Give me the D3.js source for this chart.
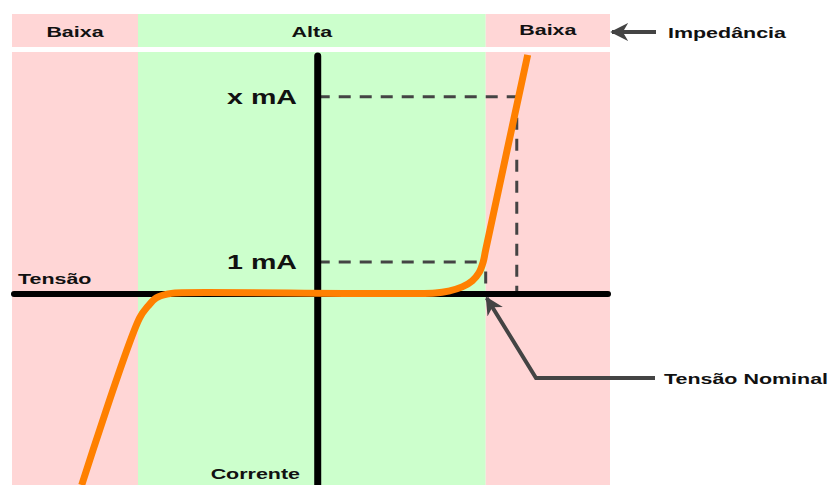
<!DOCTYPE html>
<html>
<head>
<meta charset="utf-8">
<script src="https://cdn.jsdelivr.net/npm/d3@7"></script>
<style>
  body { margin: 0; background: #fff; }
  text { font-family: "Liberation Sans", Arial, sans-serif; font-weight: bold; fill: #111; }
</style>
</head>
<body>
<div class="container"></div>
<script>
// voltage in units of nominal voltage, current in mA
const zones = [
    {label: 'Baixa', from: -1.82, to: -1.07, color: '#ffd6d6'},
    {label: 'Alta', from: -1.07, to: 1.0, color: '#ccffcc'},
    {label: 'Baixa', from: 1.0, to: 1.74, color: '#ffd6d6'},
];
const curveV = [-1.405, -1.06, -1.01, -0.96, -0.89, -0.85, 0.70, 0.78, 0.86, 0.92, 0.96, 0.985, 1.0, 1.25];
const curveI = [-5.97, -0.75, -0.38, -0.12, 0.0, 0.03, 0.03, 0.09, 0.22, 0.41, 0.66, 1.0, 1.38, 7.47];
const levels = [
    {label: '1 mA', i: 1, v: 0.985},
    {label: 'x mA', i: 6.16, v: 1.185},
];
const nominalV = 1.0;

const width = 830;
const height = 485;
const stretch = 1.43; // the lettering is drawn wide

const x = d3.scaleLinear().domain([-1.82, 1.74]).range([12, 610]);
const y = d3.scaleLinear().domain([-5.97, 7.56]).range([485, 52]);

const svg = d3.select('.container')
    .append('svg')
    .attr('width', width)
    .attr('height', height);

function label(tx, ty, str, size, anchor) {
    return svg.append('text')
        .attr('transform', `translate(${tx},${ty}) scale(${stretch},1)`)
        .attr('text-anchor', anchor || 'start')
        .attr('font-size', size)
        .text(str);
}

// header band
svg.selectAll('.head')
    .data(zones)
    .enter()
    .append('rect')
    .attr('x', d => x(d.from))
    .attr('y', 14)
    .attr('width', d => x(d.to) - x(d.from))
    .attr('height', 33)
    .attr('fill', d => d.color);

zones.forEach((d, i) => {
    label((x(d.from) + x(d.to)) / 2, i === 2 ? 35 : 37, d.label, 15, 'middle');
});

// zones of the plot
svg.selectAll('.zone')
    .data(zones)
    .enter()
    .append('rect')
    .attr('x', d => x(d.from))
    .attr('y', y.range()[1])
    .attr('width', d => x(d.to) - x(d.from))
    .attr('height', y.range()[0] - y.range()[1])
    .attr('fill', d => d.color);

// dashed guides
const dash = svg.append('g')
    .attr('stroke', '#444')
    .attr('stroke-width', 3)
    .attr('stroke-dasharray', '12,9');
levels.forEach(l => {
    dash.append('line')
        .attr('x1', x(0)).attr('x2', x(l.v))
        .attr('y1', y(l.i)).attr('y2', y(l.i));
});
dash.append('line')
    .attr('x1', x(nominalV)).attr('x2', x(nominalV))
    .attr('y1', y(0.7)).attr('y2', y(0));
dash.append('line')
    .attr('x1', x(levels[1].v)).attr('x2', x(levels[1].v))
    .attr('y1', y(levels[1].i)).attr('y2', y(0));

// axes
svg.append('line')
    .attr('x1', x(0)).attr('x2', x(0))
    .attr('y1', 56).attr('y2', 485)
    .attr('stroke', 'black')
    .attr('stroke-width', 7)
    .attr('stroke-linecap', 'round');
svg.append('line')
    .attr('x1', 14).attr('x2', 608)
    .attr('y1', y(0)).attr('y2', y(0))
    .attr('stroke', 'black')
    .attr('stroke-width', 6)
    .attr('stroke-linecap', 'round');

// curve
const pts = curveV.map((v, i) => [v, curveI[i]]);
svg.append('path')
    .datum(pts)
    .attr('d', d3.line().x(d => x(d[0])).y(d => y(d[1])).curve(d3.curveCatmullRom.alpha(0.5)))
    .attr('fill', 'none')
    .attr('stroke', '#ff8000')
    .attr('stroke-width', 7);

// labels
levels.forEach(d => label(297, y(d.i) + 7, d.label, 20, 'end'));
label(18, 284, 'Tensão', 15);
label(300, 479, 'Corrente', 15, 'end');
label(668, 38, 'Impedância', 15);
label(664, 384, 'Tensão Nominal', 15);

// arrows
svg.append('defs').append('marker')
    .attr('id', 'head')
    .attr('viewBox', '0 0 10 10')
    .attr('refX', 9).attr('refY', 5)
    .attr('markerWidth', 4.5).attr('markerHeight', 4.5)
    .attr('orient', 'auto')
    .append('path')
    .attr('d', 'M0,0 L10,5 L0,10 L3,5 Z')
    .attr('fill', '#444');

svg.append('line')
    .attr('x1', 656).attr('x2', 612)
    .attr('y1', 32).attr('y2', 32)
    .attr('stroke', '#444')
    .attr('stroke-width', 4)
    .attr('marker-end', 'url(#head)');

svg.append('polyline')
    .attr('points', `655,378 536,378 ${x(nominalV) + 1},${y(0) + 4}`)
    .attr('fill', 'none')
    .attr('stroke', '#444')
    .attr('stroke-width', 4)
    .attr('marker-end', 'url(#head)');
</script>
</body>
</html>
